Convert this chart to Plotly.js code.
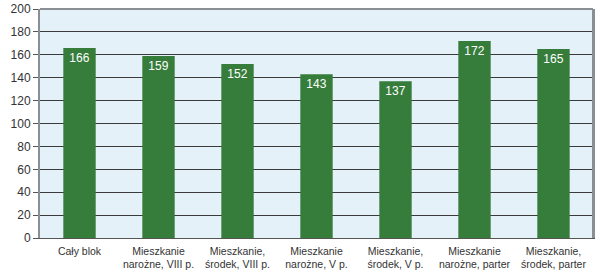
<!DOCTYPE html>
<html>
<head>
<meta charset="utf-8">
<script src="https://cdn.plot.ly/plotly-3.0.1.min.js"></script>
<style>html,body{margin:0;padding:0;background:#fff;}#chart{width:600px;height:279px;}</style>
</head>
<body>
<div id="chart"></div>
<script>
const categories = [
  "Cały blok",
  "Mieszkanie<br>narożne, VIII p.",
  "Mieszkanie,<br>środek, VIII p.",
  "Mieszkanie<br>narożne, V p.",
  "Mieszkanie,<br>środek, V p.",
  "Mieszkanie<br>narożne, parter",
  "Mieszkanie,<br>środek, parter"
];
const values = [166, 159, 152, 143, 137, 172, 165];
const yTicks = [0, 20, 40, 60, 80, 100, 120, 140, 160, 180, 200];

const font = "'Liberation Sans Narrow', 'Arial Narrow', 'Liberation Sans', sans-serif";

const trace = {
  type: 'bar',
  x: categories,
  y: values,
  text: values.map(String),
  textposition: 'inside',
  insidetextanchor: 'end',
  textangle: 0,
  textfont: {family: font, size: 12, color: '#ffffff'},
  marker: {color: '#367d3c'},
  hoverinfo: 'none'
};

const layout = {
  width: 600, height: 279,
  margin: {l: 40, r: 7, t: 9, b: 41},
  paper_bgcolor: '#ffffff',
  plot_bgcolor: '#e5f1f9',
  bargap: 0.59,
  showlegend: false,
  font: {family: font, color: '#333333'},
  xaxis: {
    type: 'category',
    showgrid: false,
    showline: true,
    linecolor: '#555555',
    linewidth: 1,
    ticks: '',
    tickangle: 0,
    ticklabelstandoff: 3,
    tickfont: {family: font, size: 10.5, color: '#333333'},
    mirror: false
  },
  yaxis: {
    range: [0, 200],
    tickvals: yTicks,
    ticktext: yTicks.map(String),
    showgrid: true,
    gridcolor: '#3a3a3a',
    gridwidth: 1,
    showline: true,
    linecolor: '#8a8f94',
    linewidth: 2,
    mirror: true,
    ticks: 'outside',
    ticklen: 5,
    tickcolor: '#555555',
    tickfont: {family: font, size: 12, color: '#333333'},
    zeroline: false
  },
  shapes: [
    {type: 'line', xref: 'paper', yref: 'paper', x0: 0, x1: 1, y0: 1, y1: 1, line: {color: '#8a8f94', width: 2}},
    {type: 'line', xref: 'paper', yref: 'paper', x0: 1, x1: 1, y0: 0, y1: 1, line: {color: '#8a8f94', width: 2}}
  ]
};

Plotly.newPlot('chart', [trace], layout, {staticPlot: true, displayModeBar: false});
</script>
</body>
</html>
